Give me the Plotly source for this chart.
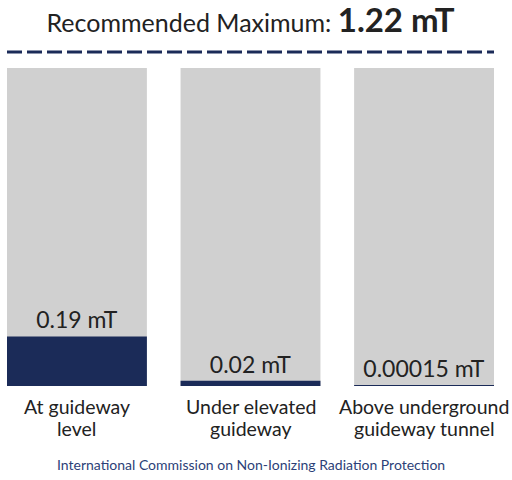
import plotly.graph_objects as go

categories = [["At guideway", "level"], ["Under elevated", "guideway"], ["Above underground", "guideway tunnel"]]
values = [0.19, 0.02, 0.00015]
value_labels = ["0.19 mT", "0.02 mT", "0.00015 mT"]
max_value = 1.22
max_label = "1.22 mT"
source = "International Commission on Non-Ionizing Radiation Protection"

DARK = "#1b2b58"
GRAY = "#d0d0d0"
TEXT = "#222222"
FONT = "Lato"

xs = list(range(len(categories)))
W = 0.806

fig = go.Figure()
fig.add_trace(go.Bar(x=xs, y=[max_value] * len(xs), width=W, marker_color=GRAY,
                     marker_line_width=0, hoverinfo="skip", showlegend=False))
fig.add_trace(go.Bar(x=xs, y=values, width=W, marker_color=DARK, marker_line_width=0,
                     text=value_labels, textposition="outside", cliponaxis=False,
                     textfont=dict(family=FONT, size=23, color=TEXT), showlegend=False))

top_range = max_value * 334 / 318

annotations = []
for i, lines in enumerate(categories):
    for j, line in enumerate(lines):
        annotations.append(dict(text=line, xref="x", yref="paper", x=xs[i],
                                y=(386 - 406.5 - 22 * j) / 334,
                                xanchor="center", yanchor="middle", showarrow=False,
                                font=dict(family=FONT, size=19.5, color=TEXT)))
annotations.append(dict(text=source, xref="paper", yref="paper", x=0.5, y=-0.235,
                        xanchor="center", yanchor="middle", showarrow=False,
                        font=dict(family=FONT, size=14, color="#2c3f78")))

fig.update_layout(
    width=512, height=480,
    margin=dict(l=7, r=18, t=52, b=94),
    barmode="overlay",
    plot_bgcolor="white", paper_bgcolor="white",
    font=dict(family=FONT, color=TEXT),
    title=dict(text=f"Recommended Maximum: <span style='font-size:33px'><b>{max_label}</b></span>",
               x=250.5 / 512, xanchor="center", y=1 - 23 / 480, yanchor="middle",
               font=dict(family=FONT, size=25, color=TEXT)),
    xaxis=dict(range=[-0.5 * W, len(xs) - 1 + 0.5 * W], showticklabels=False,
               showgrid=False, zeroline=False, showline=False, ticks=""),
    yaxis=dict(range=[0, top_range], visible=False),
    shapes=[dict(type="line", xref="paper", yref="paper", x0=0, x1=1, y0=1, y1=1,
                 line=dict(color=DARK, width=3, dash="15px,5px"))],
    annotations=annotations,
)

fig.write_html("out.html")
